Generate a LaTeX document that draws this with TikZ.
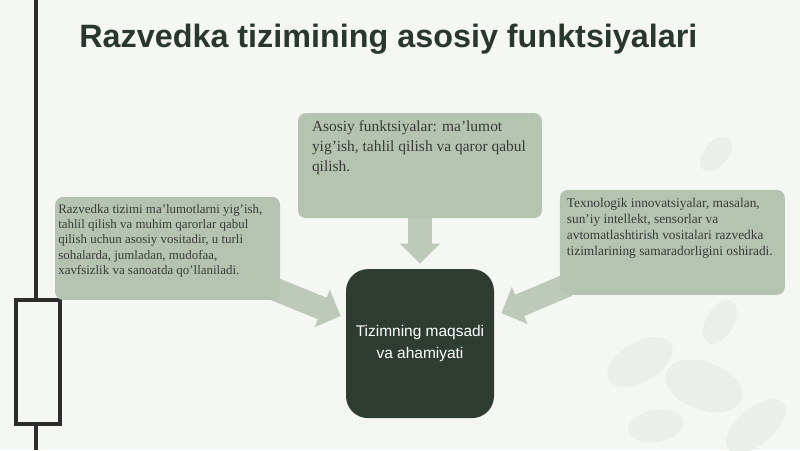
\documentclass[tikz,border=0pt]{standalone}
\usepackage{fontspec}
\setmainfont{Liberation Serif}
\setsansfont{Liberation Sans}
\usetikzlibrary{arrows.meta,backgrounds}

\definecolor{bgpaper}{RGB}{245,247,243}
\definecolor{leafgray}{RGB}{235,239,233}
\definecolor{sage}{RGB}{181,196,176}
\definecolor{sagearrow}{RGB}{189,201,185}
\definecolor{darkbox}{RGB}{46,60,50}
\definecolor{titlegreen}{RGB}{40,56,45}
\definecolor{bodytext}{RGB}{58,58,58}
\definecolor{railgray}{RGB}{45,45,45}

\begin{document}
\begin{tikzpicture}[
    infobox/.style={fill=sage, rounded corners=0.2cm, text=bodytext, inner ysep=0.2cm},
    centerbox/.style={fill=darkbox, rounded corners=0.55cm, text=white, align=center,
      minimum width=3.7cm, minimum height=3.725cm, font=\sffamily\fontsize{11}{15.6}\selectfont},
    blockarrow/.style={draw=sagearrow, line width=0.58cm, -{Triangle[width=0.98cm,length=0.5cm]}},
    rail/.style={draw=railgray, line width=0.09cm},
    leaf/.style={fill=leafgray}
  ]
  \useasboundingbox (0,0) rectangle (20,11.25);

  % Fondo con hojas
  \begin{scope}[on background layer]
    \fill[bgpaper] (0,0) rectangle (20,11.25);
    \fill[leaf, rotate around={30:(16,2.2)}] (16,2.2) ellipse (0.9 and 0.5);
    \fill[leaf, rotate around={-20:(17.6,1.6)}] (17.6,1.6) ellipse (1.0 and 0.6);
    \fill[leaf, rotate around={40:(18.9,0.6)}] (18.9,0.6) ellipse (0.9 and 0.45);
    \fill[leaf, rotate around={10:(16.4,0.6)}] (16.4,0.6) ellipse (0.7 and 0.4);
    \fill[leaf, rotate around={60:(18,3.2)}] (18,3.2) ellipse (0.6 and 0.35);
    \fill[leaf, rotate around={50:(17.9,7.4)}] (17.9,7.4) ellipse (0.5 and 0.3);
  \end{scope}

  % Barra lateral
  \node[rail, minimum width=1.1cm, minimum height=3.1cm, inner sep=0] (handle) at (0.95,2.2) {};
  \coordinate (railtop) at (0.9,11.25);
  \coordinate (railend) at (0.9,0);
  \draw[rail] (railtop) -- (railtop |- handle.north);
  \draw[rail] (railend |- handle.south) -- (railend);

  % Titulo
  \node[font=\sffamily\bfseries\fontsize{23}{27}\selectfont, text=titlegreen, anchor=base]
    (title) at (9.71,10.05) {Razvedka tizimining asosiy funktsiyalari};

  % Cajas
  \node[infobox, inner xsep=0.08cm] (lbox) at (4.19,5.04)
    {\parbox[c][2.175cm][t]{5.465cm}{\raggedright\fontsize{9.2}{10.7}\selectfont
      Razvedka tizimi ma'lumotlarni yig'ish,\\
      tahlil qilish va muhim qarorlar qabul\\
      qilish uchun asosiy vositadir, u turli\\
      sohalarda, jumladan, mudofaa,\\
      xavfsizlik va sanoatda qo'llaniladi.}};
  \node[infobox, inner xsep=0.35cm] (tbox) at (10.5,7.11)
    {\parbox[c][2.225cm][t]{5.4cm}{\raggedright\fontsize{11}{14}\selectfont
      Asosiy funktsiyalar: ma'lumot\\
      yig'ish, tahlil qilish va qaror qabul\\
      qilish.}};
  \node[infobox, inner xsep=0.175cm] (rbox) at (16.81,5.19)
    {\parbox[c][2.225cm][t]{5.275cm}{\raggedright\fontsize{9.5}{11.4}\selectfont
      Texnologik innovatsiyalar, masalan,\\
      sun'iy intellekt, sensorlar va\\
      avtomatlashtirish vositalari razvedka\\
      tizimlarining samaradorligini oshiradi.}};
  \node[centerbox] (cbox) at (10.5,2.66) {Tizimning maqsadi\\va ahamiyati};

  % Flechas
  \begin{scope}[on background layer]
    \draw[blockarrow] (tbox.south) -- ([yshift=0.13cm]cbox.north);
    \draw[blockarrow] ([xshift=-0.2cm,yshift=0.3cm]lbox.south east) -- ([xshift=-0.125cm,yshift=0.69cm]cbox.west);
    \draw[blockarrow] ([xshift=0.2cm,yshift=0.25cm]rbox.south west) -- ([xshift=0.175cm,yshift=0.76cm]cbox.east);
  \end{scope}
\end{tikzpicture}
\end{document}
